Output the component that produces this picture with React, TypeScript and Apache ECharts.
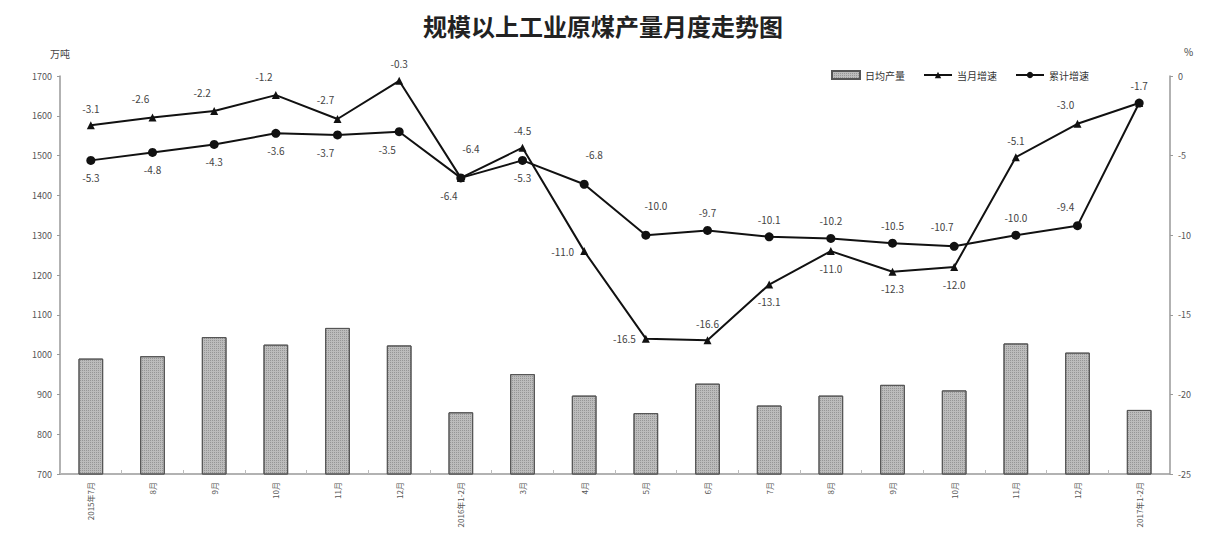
import React, { useEffect, useRef } from "react";
import * as echarts from "echarts";

// Months on the category axis
const months = [
  "2015年7月", "8月", "9月", "10月", "11月", "12月",
  "2016年1-2月", "3月", "4月", "5月", "6月", "7月", "8月", "9月", "10月", "11月", "12月",
  "2017年1-2月",
];

// 日均产量 (万吨)
const dailyOutput = [990, 996, 1044, 1025, 1067, 1023, 855, 951, 897, 853, 927, 872, 897, 924, 910, 1028, 1005, 861];

// 当月增速 (%)
const monthGrowth = [-3.1, -2.6, -2.2, -1.2, -2.7, -0.3, -6.4, -4.5, -11.0, -16.5, -16.6, -13.1, -11.0, -12.3, -12.0, -5.1, -3.0, -1.7];

// 累计增速 (%)
const cumGrowth = [-5.3, -4.8, -4.3, -3.6, -3.7, -3.5, -6.4, -5.3, -6.8, -10.0, -9.7, -10.1, -10.2, -10.5, -10.7, -10.0, -9.4, -1.7];

// Left / right axis ranges
const leftAxis = { min: 700, max: 1700, interval: 100 };
const rightAxis = { min: -25, max: 0, interval: 5 };

// Where each value label sits relative to its point
const monthLabelPos: (string | null)[] = [
  "top", "topLeft", "topLeft", "topLeft", "topLeft", "top", "topRight", "top", "left", "left",
  "top", "bottom", "bottom", "bottom", "bottom", "top", "topLeft", null,
];
const cumLabelPos: string[] = [
  "bottom", "bottom", "bottom", "bottom", "bottomLeft", "bottomLeft", "bottomLeft", "bottom", "topRight",
  "topRight", "top", "top", "top", "top", "topLeft", "top", "topLeft", "top",
];

const FONT = '"Noto Sans CJK SC", "Noto Sans", sans-serif';

function labelFor(pos: string | null) {
  if (!pos) return { show: false };
  const base: any = { show: true, distance: 8 };
  if (pos === "topRight") return { ...base, position: "top", offset: [10, -12] };
  if (pos === "topLeft") return { ...base, position: "top", offset: [-12, -2] };
  if (pos === "bottomLeft") return { ...base, position: "bottom", offset: [-12, 0] };
  if (pos === "left") return { ...base, position: "left", distance: 6 };
  return { ...base, position: pos };
}

export default function App() {
  const ref = useRef<HTMLDivElement>(null);

  useEffect(() => {
    if (!ref.current) return;
    const chart = echarts.init(ref.current, null, { renderer: "svg" });

    const labelStyle = {
      fontSize: 10,
      color: "#444",
      fontFamily: FONT,
      formatter: (p: any) => Number(p.value).toFixed(1),
    };

    chart.setOption({
      animation: false,
      backgroundColor: "#fff",
      textStyle: { fontFamily: FONT },
      title: {
        text: "规模以上工业原煤产量月度走势图",
        left: "center",
        top: 8,
        textStyle: { fontSize: 24, fontWeight: "bold", color: "#222", fontFamily: FONT },
      },
      legend: {
        right: 112,
        top: 65,
        itemGap: 18,
        itemWidth: 28,
        itemHeight: 8,
        textStyle: { fontSize: 10, color: "#333" },
        data: [
          { name: "日均产量", icon: "rect" },
          { name: "当月增速" },
          { name: "累计增速" },
        ],
      },
      grid: { left: 60, right: 36, top: 76, bottom: 71 },
      xAxis: {
        type: "category",
        data: months,
        boundaryGap: true,
        axisLine: { onZero: false, lineStyle: { color: "#999", width: 1.5 } },
        axisTick: { show: true, inside: true, length: 4, lineStyle: { color: "#bbb" } },
        axisLabel: { rotate: 90, fontSize: 8, color: "#555", margin: 8, interval: 0 },
      },
      yAxis: [
        {
          type: "value",
          ...leftAxis,
          name: "万吨",
          nameGap: 18,
          nameTextStyle: { fontSize: 10, color: "#444", align: "center" },
          axisLine: { show: true, lineStyle: { color: "#999", width: 1.5 } },
          axisTick: { show: true, length: 3, lineStyle: { color: "#999" } },
          axisLabel: { fontSize: 9, color: "#555", margin: 8, formatter: (v: number) => String(v) },
          splitLine: { show: false },
        },
        {
          type: "value",
          ...rightAxis,
          name: "%",
          nameGap: 20,
          nameTextStyle: { fontSize: 10, color: "#444", align: "left", padding: [0, 0, 0, 14] },
          axisLine: { show: true, lineStyle: { color: "#999", width: 1.5 } },
          axisTick: { show: true, length: 3, lineStyle: { color: "#999" } },
          axisLabel: { fontSize: 9, color: "#555", margin: 8, formatter: (v: number) => String(v) },
          splitLine: { show: false },
        },
      ],
      series: [
        {
          name: "日均产量",
          type: "bar",
          yAxisIndex: 0,
          barWidth: "40%",
          data: dailyOutput,
          itemStyle: {
            color: "#bcbcbc",
            borderColor: "#555",
            borderWidth: 1,
            decal: {
              symbol: "rect",
              symbolSize: 1,
              dashArrayX: [1, 1],
              dashArrayY: [1, 1],
              color: "rgba(80,80,80,0.35)",
            },
          },
        },
        {
          name: "当月增速",
          type: "line",
          yAxisIndex: 1,
          symbol: "triangle",
          symbolSize: 8,
          lineStyle: { color: "#111", width: 2 },
          itemStyle: { color: "#111" },
          data: monthGrowth.map((v, i) => ({ value: v, label: labelFor(monthLabelPos[i]) })),
          label: labelStyle,
          z: 3,
        },
        {
          name: "累计增速",
          type: "line",
          yAxisIndex: 1,
          symbol: "circle",
          symbolSize: 9,
          lineStyle: { color: "#111", width: 2 },
          itemStyle: { color: "#111" },
          data: cumGrowth.map((v, i) => ({ value: v, label: labelFor(cumLabelPos[i]) })),
          label: labelStyle,
          z: 4,
        },
      ],
    });

    return () => chart.dispose();
  }, []);

  return (
    <div
      ref={ref}
      style={{ position: "fixed", left: 0, top: 0, width: 1206, height: 545, background: "#fff" }}
    />
  );
}
